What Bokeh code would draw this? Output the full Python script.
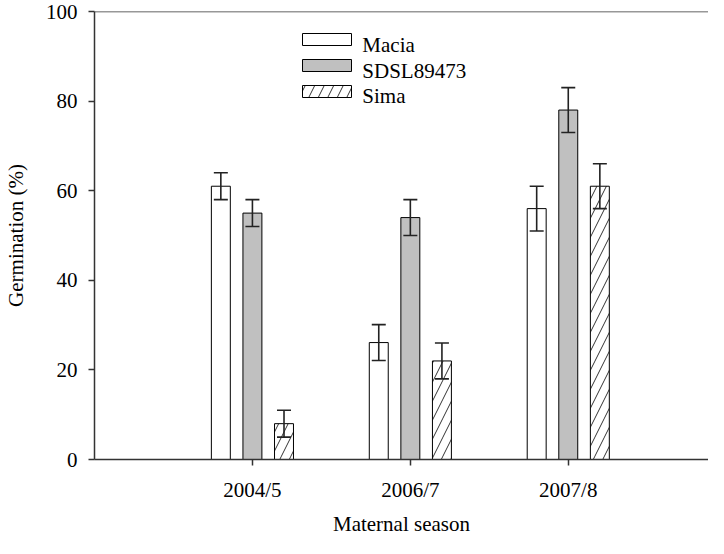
from bokeh.plotting import figure
from bokeh.models import (ColumnDataSource, Range1d, FixedTicker, Whisker, TeeHead,
                          Span, BoxAnnotation)
from bokeh.core.properties import value
from bokeh.embed import file_html
from bokeh.resources import INLINE

# ---- data ----
seasons = ["2004/5", "2006/7", "2007/8"]
macia = [61, 26.1, 56]
macia_err = [3, 4, 5]
sdsl = [55, 54, 78]
sdsl_err = [3, 4, 5]
sima = [8, 22, 61]
sima_err = [3, 4, 5]
y_ticks = [0, 20, 40, 60, 80, 100]

FONT = "Liberation Serif"
FS = "21px"

X_END = 3.888
FRAME_W = 619   # px
FRAME_H = 454   # px

p = figure(width=708, height=538, output_backend="svg", toolbar_location=None,
           x_range=Range1d(0, X_END), y_range=Range1d(0, 100),
           min_border_left=89, min_border_right=0, min_border_top=11, min_border_bottom=73)
p.outline_line_color = None
p.grid.visible = False
p.background_fill_color = "white"

centers = [1, 2, 3]
offsets = [-0.2, 0.0, 0.2]
series = [
    ("Macia", macia, macia_err, dict(fill_color="white")),
    ("SDSL89473", sdsl, sdsl_err, dict(fill_color="#c0c0c0")),
    ("Sima", sima, sima_err, dict(fill_color="white", hatch_pattern="/", hatch_scale=19,
                                  hatch_color="#333333", hatch_weight=1)),
]

leg_names, leg_x, leg_y = [], [], []
for i, ((name, vals, errs, style), off) in enumerate(zip(series, offsets)):
    xs = [c + off for c in centers]
    src = ColumnDataSource(dict(x=xs, top=vals,
                                upper=[v + e for v, e in zip(vals, errs)],
                                lower=[v - e for v, e in zip(vals, errs)]))
    p.vbar(x="x", top="top", bottom=0, width=0.12, source=src,
           line_color="black", line_width=1, **style)
    w = Whisker(source=src, base="x", upper="upper", lower="lower", level="overlay",
                line_color="#222222", line_width=1.6,
                upper_head=TeeHead(size=14, line_color="#222222", line_width=1.6),
                lower_head=TeeHead(size=14, line_color="#222222", line_width=1.6))
    p.add_layout(w)

    # legend swatch (screen units, relative to the plot frame)
    yc = 420 - 26 * i
    box_style = dict(style)
    box_style.setdefault("fill_alpha", 1.0)
    p.add_layout(BoxAnnotation(left=208, right=257, bottom=yc - 6, top=yc + 6,
                               left_units="screen", right_units="screen",
                               top_units="screen", bottom_units="screen",
                               line_color="black", line_width=1, line_alpha=1.0,
                               level="overlay", **box_style))
    leg_names.append(name)
    leg_x.append(270 * X_END / FRAME_W)
    leg_y.append(yc * 100 / FRAME_H)

# legend labels
p.text(x=leg_x, y=leg_y, text=leg_names, text_align="left", text_baseline="middle",
       text_font=value(FONT), text_font_size=value(FS), text_color="black")

# top border line
p.add_layout(Span(location=100, dimension="width", line_color="#333333", line_width=1.5))

# axes
p.xaxis.ticker = FixedTicker(ticks=centers)
p.xaxis.major_label_overrides = {c: s for c, s in zip(centers, seasons)}
p.yaxis.ticker = FixedTicker(ticks=y_ticks)
for ax in (p.xaxis, p.yaxis):
    ax.axis_line_color = "#333333"
    ax.axis_line_width = 1.5
    ax.major_tick_line_color = "#333333"
    ax.major_tick_line_width = 1.5
    ax.major_tick_out = 6
    ax.major_tick_in = 0
    ax.minor_tick_line_color = None
    ax.major_label_text_font = FONT
    ax.major_label_text_font_size = FS
    ax.major_label_text_color = "black"
    ax.axis_label_text_font = FONT
    ax.axis_label_text_font_size = FS
    ax.axis_label_text_font_style = "normal"
    ax.axis_label_text_color = "black"

p.xaxis.axis_label = "Maternal season"
p.xaxis.major_label_standoff = 12
p.xaxis.axis_label_standoff = 7
p.yaxis.axis_label = "Germination (%)"
p.yaxis.major_label_standoff = 11
p.yaxis.axis_label_standoff = 15

open("out.html", "w").write(file_html(p, INLINE))
